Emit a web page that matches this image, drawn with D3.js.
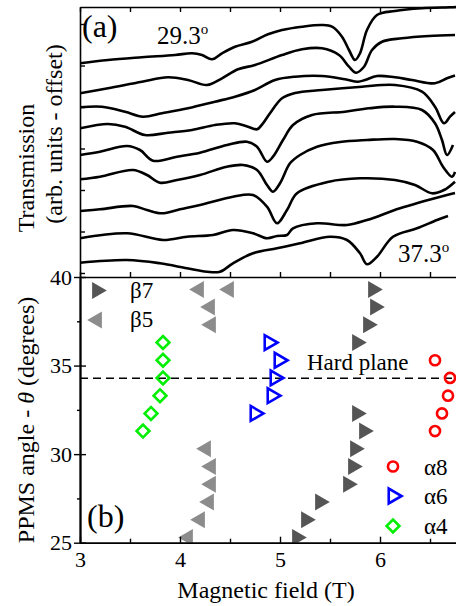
<!DOCTYPE html>
<html>
<head>
<meta charset="utf-8">
<script src="https://cdnjs.cloudflare.com/ajax/libs/d3/7.8.5/d3.min.js"></script>
<style>
  body { margin: 0; background: #fff; }
  svg, svg text { font-family: "Liberation Serif", "Times New Roman", serif; }
</style>
</head>
<body>
<svg width="456" height="606"></svg>
<script>
// ---- data ----
// (a) transmission traces, [field (T), transmission (arb. units, offset)]
const angles = [29.3, 30.3, 31.3, 32.3, 33.3, 34.3, 35.3, 36.3, 37.3];

const t293 = [[3.00,21.37],[3.28,21.70],[3.62,21.97],[3.95,22.20],[4.12,22.37],[4.22,22.20],[4.32,21.77],[4.42,22.37],[4.55,23.03],[4.72,23.53],[4.88,24.27],[5.02,24.70],[5.22,25.03],[5.42,25.20],[5.52,25.03],[5.62,24.03],[5.69,22.70],[5.75,21.70],[5.80,22.37],[5.87,24.70],[5.97,26.20],[6.15,26.60],[6.42,26.87],[6.70,26.97],[6.76,27.0]];
const t303 = [[3.00,18.37],[3.28,18.87],[3.62,19.53],[3.88,19.97],[4.08,19.70],[4.27,19.20],[4.42,19.87],[4.58,20.77],[4.75,21.20],[5.02,22.20],[5.22,22.77],[5.42,22.87],[5.59,22.20],[5.69,21.03],[5.76,20.43],[5.84,21.03],[5.92,22.70],[6.02,23.53],[6.22,23.87],[6.49,24.10],[6.75,24.20]];
const t313 = [[3.00,16.97],[3.22,17.03],[3.45,16.53],[3.63,16.03],[3.82,16.37],[4.08,16.87],[4.35,17.53],[4.55,18.03],[4.75,18.70],[4.95,19.70],[5.15,20.03],[5.42,20.10],[5.65,19.77],[5.78,19.53],[5.85,19.70],[5.97,20.10],[6.15,19.97],[6.32,19.70],[6.55,19.37],[6.67,19.87],[6.75,20.15]];
const t323 = [[3.00,14.87],[3.28,15.30],[3.45,15.03],[3.65,14.20],[3.88,14.43],[4.12,14.70],[4.35,15.20],[4.55,15.37],[4.68,15.03],[4.77,14.77],[4.83,15.37],[4.90,16.37],[5.02,17.87],[5.15,18.40],[5.42,18.70],[5.82,19.03],[6.15,19.20],[6.42,18.53],[6.55,17.03],[6.64,15.37],[6.70,16.03],[6.75,16.5]];
const t333 = [[3.00,12.20],[3.20,12.53],[3.47,13.10],[3.60,12.70],[3.73,11.63],[3.97,12.03],[4.20,12.43],[4.47,13.20],[4.67,13.53],[4.77,13.03],[4.87,11.53],[4.93,12.03],[5.03,13.70],[5.13,15.20],[5.32,16.20],[5.65,16.53],[5.89,16.87],[6.15,17.03],[6.42,16.70],[6.55,15.37],[6.62,13.70],[6.67,12.20],[6.73,13.20]];
const t343 = [[3.00,9.77],[3.20,10.03],[3.53,10.70],[3.67,10.20],[3.80,9.43],[3.97,9.70],[4.20,10.20],[4.47,11.03],[4.63,11.20],[4.77,10.70],[4.87,9.20],[4.93,8.53],[5.00,9.37],[5.10,11.37],[5.20,12.20],[5.37,13.03],[5.60,13.50],[5.87,13.70],[6.15,13.80],[6.37,13.53],[6.53,12.70],[6.63,11.03],[6.72,10.03],[6.75,10.5]];
const t353 = [[3.00,6.60],[3.20,6.77],[3.53,7.10],[3.67,6.70],[3.82,6.37],[4.00,6.77],[4.20,7.20],[4.53,8.03],[4.73,8.20],[4.87,7.03],[4.97,5.37],[5.07,6.70],[5.17,8.37],[5.49,9.53],[5.80,9.87],[6.15,9.70],[6.35,9.20],[6.52,8.37],[6.64,8.70],[6.75,9.53]];
const t363 = [[3.00,3.87],[3.47,4.37],[3.83,3.70],[4.07,4.03],[4.33,4.20],[4.53,4.70],[4.73,4.37],[4.87,3.87],[4.97,4.10],[5.07,4.20],[5.13,4.87],[5.37,5.37],[5.67,5.20],[5.87,5.70],[6.20,6.87],[6.67,8.20],[6.75,8.4]];
const t373 = [[3.00,1.43],[3.47,1.70],[3.80,1.37],[4.07,0.87],[4.27,0.53],[4.40,0.53],[4.53,1.37],[4.73,2.37],[4.97,2.87],[5.20,3.37],[5.50,4.03],[5.67,3.70],[5.80,2.37],[5.87,1.27],[5.97,2.03],[6.13,4.03],[6.37,4.87],[6.57,5.70],[6.68,6.10]];
const traces = [t293, t303, t313, t323, t333, t343, t353, t363, t373];

// (b) resonance positions, [field (T), angle (deg)]
const beta7 = [[5.93,39.3],[5.95,38.3],[5.88,37.3],[5.77,36.3],[5.77,32.3],[5.84,31.3],[5.75,30.3],[5.73,29.3],[5.68,28.3],[5.40,27.3],[5.26,26.3],[5.17,25.3]];
const beta5 = [[4.19,39.3],[4.49,39.3],[4.30,38.3],[4.31,37.3],[4.26,30.3],[4.31,29.3],[4.31,28.3],[4.29,27.3],[4.20,26.3],[4.08,25.3]];
const alpha8 = [[6.55,35.3],[6.70,34.3],[6.68,33.3],[6.62,32.3],[6.55,31.3]];
const alpha6 = [[4.89,36.3],[4.99,35.3],[4.95,34.3],[4.92,33.3],[4.75,32.3]];
const alpha4 = [[3.83,36.3],[3.83,35.3],[3.83,34.3],[3.80,33.3],[3.71,32.3],[3.63,31.3]];
const hardPlane = 34.28;

const xMajor = [3, 4, 5, 6];
const xMinor = [3.5, 4.5, 5.5, 6.5];
const yMajor = [25, 30, 35, 40];
const yMinor = [27.5, 32.5, 37.5];
const topTicks = [0.4, 4.55, 8.7, 12.85, 17.0, 21.15, 25.3];

// ---- layout ----
const svg = d3.select("svg");
const L = 80, R = 456, T = 7, M = 277, B = 542.7;
const font = 22;
const serif = "'Liberation Serif', 'Times New Roman', serif";

const x = d3.scaleLinear().domain([3, 6.76]).range([L, R]);
const yTop = d3.scaleLinear().domain([0, 27]).range([M, T]);
const yBot = d3.scaleLinear().domain([25, 40]).range([B, M]);

function styleAxis(g) {
  g.attr("font-family", serif);
  g.selectAll("path.domain").attr("stroke", "#000").attr("stroke-width", 1.6);
  g.selectAll(".tick line").attr("stroke", "#000").attr("stroke-width", 1.4);
  g.selectAll("text").attr("font-size", font).attr("fill", "#000");
}

// ---- panel (a) ----
svg.append("defs").append("clipPath").attr("id", "clipA")
  .append("rect").attr("x", L).attr("y", T - 2).attr("width", R - L).attr("height", M - T + 2);

const line = d3.line().x(d => x(d[0])).y(d => yTop(d[1])).curve(d3.curveCatmullRom.alpha(0.5));
svg.append("g").attr("clip-path", "url(#clipA)")
  .selectAll("path").data(traces).join("path")
  .attr("d", line).attr("fill", "none").attr("stroke", "#000")
  .attr("stroke-width", 2.6).attr("stroke-linejoin", "round");

// top frame
svg.append("g").attr("transform", `translate(0,${T})`)
  .call(d3.axisTop(x).tickValues(xMajor.concat(xMinor)).tickSize(-5).tickSizeOuter(0).tickFormat(""))
  .call(styleAxis);
// left axis of (a)
svg.append("g").attr("transform", `translate(${L},0)`)
  .call(d3.axisLeft(yTop).tickValues(topTicks).tickSize(-5).tickSizeOuter(0).tickFormat(""))
  .call(styleAxis);
// shared middle axis, ticks pointing up
svg.append("g").attr("transform", `translate(0,${M})`)
  .call(d3.axisTop(x).tickValues(xMajor.concat(xMinor)).tickSize(5).tickSizeOuter(0).tickFormat(""))
  .call(styleAxis);

svg.append("text").attr("x", 82).attr("y", 37).attr("font-size", 32).text("(a)");
const lab1 = svg.append("text").attr("x", 157).attr("y", 44).attr("font-size", 25);
lab1.append("tspan").text(angles[0].toFixed(1));
lab1.append("tspan").attr("font-size", 15).attr("dy", -10).text("o");
const lab2 = svg.append("text").attr("x", 398).attr("y", 262).attr("font-size", 25);
lab2.append("tspan").text(angles[angles.length - 1].toFixed(1));
lab2.append("tspan").attr("font-size", 15).attr("dy", -10).text("o");

// ---- panel (b) ----
svg.append("defs").append("clipPath").attr("id", "clipB")
  .append("rect").attr("x", L).attr("y", M).attr("width", R - L).attr("height", B - M);

const gB = svg.append("g").attr("clip-path", "url(#clipB)");

gB.append("line")
  .attr("x1", L).attr("x2", R).attr("y1", yBot(hardPlane)).attr("y2", yBot(hardPlane))
  .attr("stroke", "#000").attr("stroke-width", 1.6).attr("stroke-dasharray", "8,5");

const tri = d3.symbol().type(d3.symbolTriangle).size(125)();
const triOpen = d3.symbol().type(d3.symbolTriangle).size(95)();
const circ = d3.symbol().type(d3.symbolCircle).size(80)();
const diam = d3.symbol().type(d3.symbolSquare).size(82)();

function pts(data, path, rot, fill, stroke) {
  gB.append("g").selectAll("path").data(data).join("path")
    .attr("d", path)
    .attr("transform", d => `translate(${x(d[0])},${yBot(d[1])}) rotate(${rot})`)
    .attr("fill", fill).attr("stroke", stroke).attr("stroke-width", stroke === "none" ? 0 : 2.6);
}
pts(beta7, tri, 90, "#555555", "none");
pts(beta5, tri, -90, "#8c8c8c", "none");
pts(alpha6, triOpen, 90, "none", "#0000ff");
pts(alpha4, diam, 45, "none", "#00ee00");
pts(alpha8, circ, 0, "none", "#ff0000");

svg.append("text").attr("x", 307).attr("y", 370).attr("font-size", 23).text("Hard plane");

// legends
svg.append("path").attr("d", tri).attr("transform", "translate(97,290.5) rotate(90)").attr("fill", "#555555");
svg.append("text").attr("x", 130).attr("y", 298).attr("font-size", 23).text("β7");
svg.append("path").attr("d", tri).attr("transform", "translate(97,320) rotate(-90)").attr("fill", "#8c8c8c");
svg.append("text").attr("x", 130).attr("y", 327).attr("font-size", 23).text("β5");

svg.append("path").attr("d", circ).attr("transform", "translate(393,466.5)")
  .attr("fill", "none").attr("stroke", "#ff0000").attr("stroke-width", 2.6);
svg.append("text").attr("x", 424).attr("y", 475).attr("font-size", 23).text("α8");
svg.append("path").attr("d", triOpen).attr("transform", "translate(393,496) rotate(90)")
  .attr("fill", "none").attr("stroke", "#0000ff").attr("stroke-width", 2.6);
svg.append("text").attr("x", 424).attr("y", 504).attr("font-size", 23).text("α6");
svg.append("path").attr("d", diam).attr("transform", "translate(393,526) rotate(45)")
  .attr("fill", "none").attr("stroke", "#00ee00").attr("stroke-width", 2.6);
svg.append("text").attr("x", 424).attr("y", 534).attr("font-size", 23).text("α4");

svg.append("text").attr("x", 87).attr("y", 527).attr("font-size", 32).text("(b)");

// axes of (b)
svg.append("g").attr("transform", `translate(0,${B})`)
  .call(d3.axisBottom(x).tickValues(xMajor).tickSize(-6).tickPadding(9).tickSizeOuter(0).tickFormat(d3.format("d")))
  .call(styleAxis);
svg.append("g").attr("transform", `translate(0,${B})`)
  .call(d3.axisBottom(x).tickValues(xMinor).tickSize(-4).tickSizeOuter(0).tickFormat(""))
  .call(styleAxis);
svg.append("g").attr("transform", `translate(${L},0)`)
  .call(d3.axisLeft(yBot).tickValues(yMajor).tickSize(6).tickPadding(2).tickSizeOuter(0).tickFormat(d3.format("d")))
  .call(styleAxis);
svg.append("g").attr("transform", `translate(${L},0)`)
  .call(d3.axisLeft(yBot).tickValues(yMajor).tickSize(-6).tickSizeOuter(0).tickFormat(""))
  .call(styleAxis);
svg.append("g").attr("transform", `translate(${L},0)`)
  .call(d3.axisLeft(yBot).tickValues(yMinor).tickSize(3).tickSizeOuter(0).tickFormat(""))
  .call(styleAxis);

// axis titles
svg.append("text").attr("x", 266).attr("y", 598).attr("text-anchor", "middle")
  .attr("font-size", 24).text("Magnetic field (T)");

const yt = svg.append("text").attr("transform", "translate(34,420) rotate(-90)")
  .attr("text-anchor", "middle").attr("font-size", 24);
yt.append("tspan").text("PPMS angle - ");
yt.append("tspan").attr("font-style", "italic").text("θ");
yt.append("tspan").text(" (degrees)");

svg.append("text").attr("transform", "translate(34,168) rotate(-90)")
  .attr("text-anchor", "middle").attr("font-size", 24).text("Transmission");
svg.append("text").attr("transform", "translate(62,134) rotate(-90)")
  .attr("text-anchor", "middle").attr("font-size", 24).text("(arb. units - offset)");
</script>
</body>
</html>
